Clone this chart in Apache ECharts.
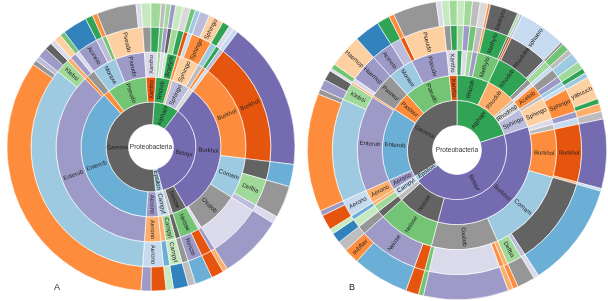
<!DOCTYPE html>
<html>
<head>
<meta charset="utf-8">
<script src="https://cdn.jsdelivr.net/npm/echarts@6/dist/echarts.min.js"></script>
<style>
  html, body { margin: 0; padding: 0; background: #fff; }
  #chart { width: 608px; height: 301px; }
</style>
</head>
<body>
<div id="chart"></div>
<script>
// leaves: class/order/family/genus/species, value = share of the circle
// names starting with "_" are unclassified (drawn, but without a label)
const leavesA = [
    ['Alphapr/Rhizob/Phyllob/Mesorhi/loti', 2],
    ['Alphapr/Rhizob/Hyphomi/Devosia/riboflav', 2],
    ['Alphapr/Rhizob/Methylb/Methylb/extorq', 2],
    ['Alphapr/Rhizob/Bradyrh/Bradyrh/japonic', 3],
    ['Alphapr/Rhizob/Bradyrh/Bosea/thiooxi', 3],
    ['Alphapr/Rhodobs/Rhodobc/Paracoc/yeei', 2],
    ['Alphapr/Sphingo/Sphingo/Novosph/aromat', 2],
    ['Alphapr/Sphingo/Sphingo/Sphingo/yanoik', 4],
    ['Alphapr/Sphingo/Sphingo/Sphingo/Sphingo', 6],
    ['Alphapr/Sphingo/Erythro/Erythro/citreus', 3],
    ['Alphapr/Rhodosp/Acetob/Glucono/oxydans', 2],
    ['Alphapr/Rhodosp/Rhodosp/Azospir/brasil', 2],
    ['Betapr/Burkhol/Burkhol/Burkhol/_Burk', 60],
    ['Betapr/Burkhol/Comam/_Coma/_Coma', 9],
    ['Betapr/Burkhol/Comam/Delftia/_Delf', 13],
    ['Betapr/Burkhol/Comam/Acidovo/_Acid', 3],
    ['Betapr/Burkhol/Oxalob/_Oxal/_Oxal', 26],
    ['Betapr/Burkhol/Alcalig/Achromo/_Achr', 2],
    ['Betapr/Neisse/Neisse/Kingell/_King', 5],
    ['Betapr/Neisse/Neisse/Neisse/_Neis', 7],
    ['Betapr/Nitroso/Nitroso/Nitroso/_Nitr', 3],
    ['Epsilon/Campyl/Campyl/Campyl/_Camp', 6],
    ['Epsilon/Campyl/Helicob/Helicob/pylori', 3],
    ['Gamma/Aerono/Aerono/Aerono/_Aero', 6],
    ['Gamma/Aerono/Aerono/Aerono/hydroph', 4],
    ['Gamma/Enterob/Enterob/_Ent/_Ent', 121],
    ['Gamma/Enterob/Enterob/_Ent/fergus', 2],
    ['Gamma/Enterob/Enterob/_Ent/albertii', 2],
    ['Gamma/Enterob/Enterob/Klebsi/pneumon', 4],
    ['Gamma/Enterob/Enterob/Klebsi/oxytoca', 3],
    ['Gamma/Enterob/Serrat/Serrat/marcesc', 2],
    ['Gamma/Pasteur/Pasteur/Haemop/parainf', 3],
    ['Gamma/Pasteur/Pasteur/Pasteur/multoc', 2],
    ['Gamma/Pseudo/Moraxe/Acineto/_Acin', 10],
    ['Gamma/Pseudo/Moraxe/Enhydro/_Enhy', 3],
    ['Gamma/Pseudo/Moraxe/Moraxe/osloens', 2],
    ['Gamma/Pseudo/Pseudo/Pseudo/_Pseu', 16],
    ['Gamma/Pseudo/Pseudo/Pseudo/stutzer', 2],
    ['Gamma/Xantho/Xantho/Stenotr/maltoph', 4],
    ['Gamma/Xantho/Xantho/Xanthom/campest', 4],
];

const leavesB = [
    ['Alphapr/Rhizob/Bradyrh/Bradyrh/japonic', 3],
    ['Alphapr/Rhizob/Hyphomi/Devosia/riboflav', 3],
    ['Alphapr/Rhizob/Phyllob/Mesorhi/loti', 3],
    ['Alphapr/Rhizob/Brucell/Ochroba/anthrop', 3],
    ['Alphapr/Rhizob/Methylo/Microvi/_Micr', 1],
    ['Alphapr/Rhizob/Methylo/Methylo/Methylo', 11],
    ['Alphapr/Rhizob/Methylo/Methylb/_Mb', 1],
    ['Alphapr/Rhodob/Rhodob/Paracoc/_Para', 1],
    ['Alphapr/Rhodob/Rhodob/Rhodoba/sphaero', 18],
    ['Alphapr/Rhodob/Rhodob/Rubellim/_Rub', 1],
    ['Alphapr/Rhodob/Hyphomo/Hyphomo/_Hyph', 3],
    ['Alphapr/Caulob/Caulob/Brevund/diminut', 2],
    ['Alphapr/Rhodosp/Acetob/Rosemon/_Rose', 4],
    ['Alphapr/Rhodosp/Acetob/Gluconb/_Glu', 3],
    ['Alphapr/Sphingo/Erythro/Erythro/citreus', 2],
    ['Alphapr/Sphingo/Sphingo/Novosph/aromat', 2],
    ['Alphapr/Sphingo/Sphingo/Sphingo/yabuuch', 9],
    ['Alphapr/Sphingo/Sphingo/Sphingo/_Sph', 2],
    ['Betapr/Burkhol/Alcalig/Achromo/_Achr', 3],
    ['Betapr/Burkhol/Sutter/Parasut/_Bord', 3],
    ['Betapr/Burkhol/Burkhol/Burkhol/_Burk', 27],
    ['Betapr/Burkhol/Burkhol/Ralston/_Rals', 1],
    ['Betapr/Burkhol/Comam/_Coma/_Coma', 41],
    ['Betapr/Burkhol/Comam/Acidovo/_Acid', 2],
    ['Betapr/Burkhol/Comam/Delftia/_Delf', 7],
    ['Betapr/Burkhol/Oxalob/Herbasp/_Herb', 2],
    ['Betapr/Burkhol/Oxalob/Janthin/_Jant', 2],
    ['Betapr/Burkhol/Oxalob/_Oxal/_Oxal', 33],
    ['Betapr/Burkhol/Oxalob/Massili/_Mass', 2],
    ['Betapr/Neisse/Neisse/Kingell/_King', 5],
    ['Betapr/Neisse/Neisse/Neisse/_Neis', 22],
    ['Betapr/Neisse/Neisse/Neisse/subflav', 6],
    ['Betapr/Nitroso/Nitroso/Nitroso/_Nitr', 4],
    ['Epsilon/Campyl/Campyl/Campyl/_Camp', 4],
    ['Epsilon/Campyl/Helicob/Helicob/pylori', 2],
    ['Gamma/Aerono/Aerono/Aerono/_Aero', 6],
    ['Gamma/Aerono/Aerono/Aerono/hydroph', 2],
    ['Gamma/Enterob/Enterob/_Ent/_Ent', 46],
    ['Gamma/Enterob/Enterob/_Ent/fergus', 2],
    ['Gamma/Enterob/Enterob/Klebsi/pneumon', 4],
    ['Gamma/Enterob/Enterob/Klebsi/oxytoca', 4],
    ['Gamma/Enterob/Serrat/Serrat/marcesc', 1],
    ['Gamma/Pasteur/Pasteur/Pasteur/multoc', 2],
    ['Gamma/Pasteur/Pasteur/Haemop/Haemop', 13],
    ['Gamma/Pseudo/Moraxe/Acineto/_Acin', 10],
    ['Gamma/Pseudo/Moraxe/Enhydro/_Enhy', 5],
    ['Gamma/Pseudo/Pseudo/Azotoba/_Azot', 2],
    ['Gamma/Pseudo/Pseudo/Pseudo/_Pseu', 17],
    ['Gamma/Pseudo/Pseudo/Pseudo/stutzer', 2],
    ['Gamma/Xantho/Xantho/Stenotr/maltoph', 3],
    ['Gamma/Xantho/Xantho/Xanthom/campest', 3],
];

// colours, keyed by ring depth and name
const nodeColors = {
    '1:Alphapr': '#31a354', '1:Betapr': '#756bb1', '1:Epsilon': '#9ecae1', '1:Gamma': '#636363',
    '2:Rhizob': '#31a354', '2:Rhodobs': '#fdae6b', '2:Rhodob': '#fdae6b', '2:Sphingo': '#bcbddc',
    '2:Rhodosp': '#d9d9d9', '2:Caulob': '#bdbdbd', '2:Burkhol': '#756bb1', '2:Neisse': '#636363',
    '2:Nitroso': '#bdbdbd', '2:Campyl': '#c6dbef', '2:Aerono': '#9e9ac8', '2:Enterob': '#6baed6',
    '2:Pasteur': '#fd8d3c', '2:Pseudo': '#74c476', '2:Xantho': '#e6550d',
    '3:Phyllob': '#a1d99b', '3:Hyphomi': '#dadaeb', '3:Methylb': '#c7e9c0', '3:Bradyrh': '#31a354',
    '3:Rhodobc': '#fd8d3c', '3:Sphingo': '#fdd0a2', '3:Erythro': '#bdbdbd', '3:Acetob': '#fd8d3c',
    '3:Rhodosp': '#c6dbef', '3:Brucell': '#9e9ac8', '3:Methylo': '#74c476', '3:Rhodob': '#31a354',
    '3:Hyphomo': '#969696', '3:Caulob': '#dadaeb', '3:Sutter': '#bdbdbd',
    '3:Burkhol': '#fd8d3c', '3:Comam': '#9ecae1', '3:Oxalob': '#969696', '3:Alcalig': '#dadaeb',
    '3:Neisse': '#74c476', '3:Nitroso': '#636363', '3:Campyl': '#a1d99b', '3:Helicob': '#fdae6b',
    '3:Aerono': '#fdae6b', '3:Enterob': '#9e9ac8', '3:Serrat': '#fd8d3c', '3:Pasteur': '#969696',
    '3:Moraxe': '#9ecae1', '3:Pseudo': '#9e9ac8', '3:Xantho': '#dadaeb',
    '4:Mesorhi': '#74c476', '4:Devosia': '#9e9ac8', '4:Methylb': '#636363', '4:Bradyrh': '#a1d99b',
    '4:Bosea': '#31a354', '4:Paracoc': '#e6550d', '4:Novosph': '#c6dbef', '4:Sphingo': '#fd8d3c',
    '4:Erythro': '#9ecae1', '4:Glucono': '#31a354', '4:Azospir': '#bcbddc', '4:Ochroba': '#bdbdbd',
    '4:Microvi': '#fd8d3c', '4:Methylo': '#31a354', '4:Rhodoba': '#636363', '4:Rubellim': '#bcbddc',
    '4:Hyphomo': '#a1d99b', '4:Brevund': '#c6dbef', '4:Rosemon': '#969696', '4:Gluconb': '#9e9ac8',
    '4:Burkhol': '#e6550d', '4:_Coma': '#636363', '4:Delftia': '#a1d99b', '4:Acidovo': '#bcbddc',
    '4:_Oxal': '#dadaeb', '4:Achromo': '#9e9ac8', '4:Parasut': '#c6dbef', '4:Ralston': '#fdae6b',
    '4:Herbasp': '#fdae6b', '4:Janthin': '#fd8d3c', '4:Massili': '#74c476',
    '4:Kingell': '#e6550d', '4:Neisse': '#9e9ac8', '4:Nitroso': '#969696', '4:Campyl': '#c7e9c0',
    '4:Helicob': '#6baed6', '4:Aerono': '#c6dbef', '4:_Ent': '#9ecae1', '4:Klebsi': '#a1d99b',
    '4:Serrat': '#fdae6b', '4:Haemop': '#9e9ac8', '4:Pasteur': '#dadaeb', '4:Acineto': '#9e9ac8',
    '4:Enhydro': '#bcbddc', '4:Moraxe': '#74c476', '4:Azotoba': '#e6550d', '4:Pseudo': '#fdd0a2',
    '4:Stenotr': '#969696', '4:Xanthom': '#31a354',
    '5:loti': '#bdbdbd', '5:riboflav': '#a1d99b', '5:extorq': '#9e9ac8', '5:japonic': '#c7e9c0',
    '5:thiooxi': '#d9d9d9', '5:yeei': '#74c476', '5:aromat': '#9ecae1', '5:yanoik': '#bcbddc',
    '5:Sphingo': '#fdd0a2', '5:citreus': '#31a354', '5:oxydans': '#dadaeb', '5:brasil': '#c6dbef',
    '5:anthrop': '#d9d9d9', '5:_Micr': '#fd8d3c', '5:Methylo': '#636363', '5:_Mb': '#a1d99b',
    '5:_Para': '#bcbddc', '5:sphaero': '#c6dbef', '5:_Rub': '#969696', '5:_Hyph': '#74c476',
    '5:diminut': '#bdbdbd', '5:_Rose': '#9ecae1', '5:_Glu': '#a1d99b', '5:yabuuch': '#fdd0a2',
    '5:_Sph': '#31a354',
    '5:_Burk': '#756bb1', '5:_Coma': '#6baed6', '5:_Delf': '#969696', '5:_Acid': '#dadaeb',
    '5:_Oxal': '#9e9ac8', '5:_Achr': '#fdae6b', '5:_Bord': '#bdbdbd', '5:_Rals': '#c6dbef',
    '5:_Herb': '#fd8d3c', '5:_Jant': '#fdae6b', '5:_Mass': '#74c476', '5:_King': '#e6550d',
    '5:_Neis': '#6baed6', '5:subflav': '#fd8d3c', '5:_Nitr': '#bdbdbd', '5:_Camp': '#3182bd',
    '5:pylori': '#c7e9c0', '5:_Aero': '#e6550d', '5:hydroph': '#9e9ac8', '5:_Ent': '#fd8d3c',
    '5:fergus': '#969696', '5:albertii': '#bcbddc', '5:pneumon': '#9e9ac8', '5:oxytoca': '#636363',
    '5:marcesc': '#dadaeb', '5:parainf': '#fdd0a2', '5:multoc': '#74c476', '5:Haemop': '#fdd0a2',
    '5:_Acin': '#3182bd', '5:_Enhy': '#31a354', '5:osloens': '#fd8d3c', '5:_Azot': '#fd8d3c',
    '5:_Pseu': '#969696', '5:stutzer': '#dadaeb', '5:maltoph': '#c7e9c0', '5:campest': '#a1d99b',
};

function makeNode(depth, name) {
    const node = {
        name: name,
        itemStyle: {color: nodeColors[depth + ':' + name] || '#d9d9d9'},
    };
    if (name.charAt(0) === '_') {
        node.label = {show: false};
    }
    return node;
}

function buildTree(leaves) {
    const root = {
        name: 'Proteobacteria',
        itemStyle: {color: '#fff', borderWidth: 0},
        children: [],
    };
    leaves.forEach(([path, value]) => {
        const names = path.split('/');
        let node = root;
        names.forEach((name, i) => {
            const kids = node.children;
            if (i === names.length - 1) {
                const leaf = makeNode(i + 1, name);
                leaf.value = value;
                kids.push(leaf);
                return;
            }
            let last = kids[kids.length - 1];
            if (!last || last.name !== name) {
                last = makeNode(i + 1, name);
                last.children = [];
                kids.push(last);
            }
            node = last;
        });
    });
    return [root];
}

function ringLevels(hole, edges) {
    const levels = [{}, {
        r0: 0,
        r: hole,
        label: {rotate: 0, fontSize: 6.5, color: '#333'},
    }];
    let r0 = hole;
    edges.forEach((r) => {
        levels.push({r0: r0, r: r});
        r0 = r;
    });
    return levels;
}

function sunburst(center, startAngle, hole, edges, leaves) {
    return {
        type: 'sunburst',
        center: center,
        startAngle: startAngle,
        clockwise: true,
        sort: null,
        nodeClick: false,
        animation: false,
        itemStyle: {
            borderColor: '#fff',
            borderWidth: 0.6,
        },
        emphasis: {disabled: true},
        label: {
            rotate: 'radial',
            fontSize: 6,
            fontFamily: 'Liberation Sans, Arial, sans-serif',
            color: '#222',
            minAngle: 5,
        },
        levels: ringLevels(hole, edges),
        data: buildTree(leaves),
    };
}

const chart = echarts.init(document.getElementById('chart'), null, {renderer: 'canvas'});
chart.setOption({
    animation: false,
    graphic: [
        {type: 'text', left: 54, top: 283, style: {text: 'A', fontSize: 9, fill: '#222', fontFamily: 'Liberation Sans'}},
        {type: 'text', left: 349, top: 283, style: {text: 'B', fontSize: 9, fill: '#222', fontFamily: 'Liberation Sans'}},
    ],
    series: [
        sunburst([151, 147], 86, 22.5, [45, 70, 95, 120, 144], leavesA),
        sunburst([457, 150], 90, 24.5, [49.7, 74.7, 99.7, 124.7, 149.7], leavesB),
    ],
});
</script>
</body>
</html>
